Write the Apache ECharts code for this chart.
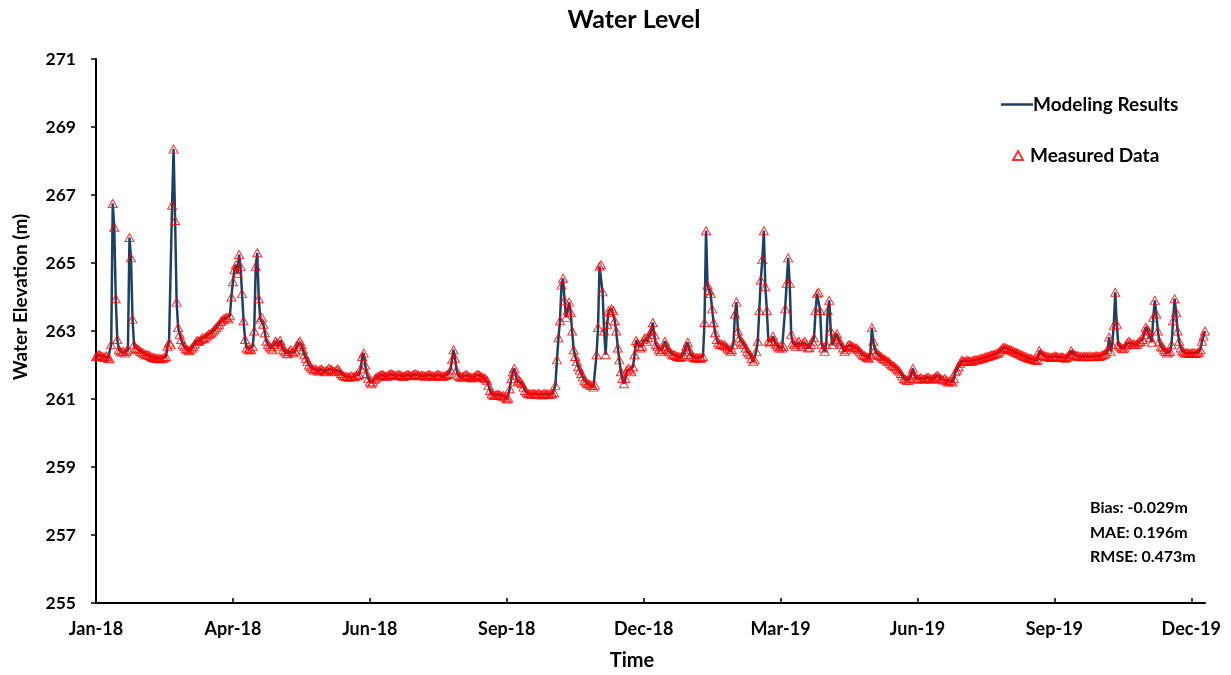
<!DOCTYPE html>
<html>
<head>
<meta charset="utf-8">
<script src="https://cdn.jsdelivr.net/npm/echarts@6/dist/echarts.min.js"></script>
<style>html,body{margin:0;padding:0;background:#fff;}#chart{width:1231px;height:675px;}</style>
</head>
<body>
<div id="chart"></div>
<script>
// Day offsets from 1 Jan 2018 and the tick labels shown on the time axis
const xTickDays = [0, 90, 180, 270, 360, 450, 540, 630, 720];
const xTickLabels = ['Jan-18','Apr-18','Jun-18','Sep-18','Dec-18','Mar-19','Jun-19','Sep-19','Dec-19'];
const yTicks = [255, 257, 259, 261, 263, 265, 267, 269, 271];

// Daily modeled water elevation (m), day 0 = 1 Jan 2018 ... day 729 = 31 Dec 2019
const modeled = [
262.25,262.28,262.3,262.27,262.25,262.22,262.24,262.26,262.2,262.18,
262.6,266.75,266.05,263.95,262.75,262.45,262.4,262.38,262.4,262.35,
262.4,262.45,265.75,265.15,263.35,262.6,262.5,262.48,262.45,262.4,
262.38,262.35,262.32,262.3,262.3,262.28,262.25,262.22,262.22,262.2,
262.2,262.18,262.2,262.18,262.2,262.22,262.25,262.55,262.65,262.6,
266.7,268.35,266.25,263.85,263.1,262.9,262.75,262.6,262.55,262.48,
262.45,262.42,262.45,262.5,262.55,262.62,262.7,262.72,262.7,262.75,
262.8,262.78,262.82,262.85,262.9,262.92,262.95,263.0,263.05,263.1,
263.15,263.2,263.28,263.32,263.35,263.38,263.4,263.35,263.45,264.0,
264.45,264.8,264.95,264.7,265.25,264.9,264.1,263.3,262.75,262.5,
262.45,262.48,262.45,262.55,263.0,264.9,265.3,263.95,263.35,263.4,
263.2,262.95,262.7,262.6,262.55,262.5,262.45,262.6,262.7,262.65,
262.55,262.72,262.6,262.45,262.4,262.35,262.33,262.4,262.45,262.38,
262.35,262.4,262.55,262.65,262.7,262.6,262.45,262.3,262.2,262.1,
262.0,261.95,261.9,261.85,261.88,261.85,261.82,261.85,261.88,261.85,
261.8,261.82,261.85,261.9,261.88,261.85,261.82,261.8,261.85,261.88,
261.82,261.75,261.7,261.68,261.65,261.66,261.64,261.65,261.68,261.65,
261.66,261.7,261.68,261.72,261.9,262.25,262.35,262.0,261.75,261.6,
261.5,261.45,261.5,261.58,261.62,261.65,261.68,261.7,261.72,261.7,
261.68,261.66,261.7,261.72,261.74,261.72,261.7,261.68,261.7,261.72,
261.7,261.68,261.66,261.68,261.7,261.72,261.7,261.68,261.7,261.72,
261.74,261.72,261.7,261.68,261.7,261.69,261.67,261.68,261.7,261.72,
261.7,261.68,261.66,261.68,261.7,261.72,261.7,261.68,261.66,261.68,
261.7,261.72,261.75,261.85,262.15,262.45,262.2,261.85,261.7,261.65,
261.64,261.66,261.68,261.72,261.7,261.66,261.64,261.62,261.64,261.66,
261.7,261.72,261.7,261.66,261.64,261.62,261.6,261.55,261.4,261.25,
261.15,261.12,261.1,261.12,261.14,261.12,261.1,261.08,261.1,261.05,
261.0,261.02,261.3,261.6,261.8,261.9,261.7,261.5,261.55,261.5,
261.45,261.35,261.25,261.2,261.15,261.16,261.14,261.15,261.16,261.14,
261.15,261.16,261.14,261.12,261.15,261.16,261.14,261.15,261.13,261.15,
261.15,261.2,261.4,262.15,262.8,263.3,264.35,264.55,263.9,263.4,
263.6,263.85,263.55,263.0,262.45,262.25,262.1,261.95,261.85,261.75,
261.65,261.55,261.5,261.45,261.45,261.4,261.4,261.35,261.4,262.3,
263.1,264.9,264.95,264.15,263.0,262.3,263.2,263.6,263.55,263.65,
263.6,263.3,263.0,262.5,262.15,261.8,261.6,261.45,261.6,261.85,
261.9,261.85,261.8,261.95,262.3,262.72,262.65,262.55,262.5,262.55,
262.75,262.8,262.7,262.8,262.9,263.0,263.25,262.9,262.6,262.55,
262.45,262.4,262.45,262.5,262.7,262.55,262.45,262.4,262.35,262.3,
262.3,262.28,262.25,262.25,262.22,262.25,262.3,262.4,262.55,262.67,
262.45,262.3,262.25,262.22,262.2,262.22,262.2,262.22,262.2,262.25,
263.25,265.95,264.35,264.2,264.1,263.65,263.25,262.95,262.75,262.65,
262.6,262.62,262.58,262.6,262.55,262.5,262.45,262.4,262.45,262.6,
263.5,263.85,263.0,262.8,262.7,262.65,262.6,262.5,262.4,262.35,
262.3,262.2,262.1,262.15,262.4,262.7,263.6,264.5,265.1,265.95,
264.3,263.6,262.7,262.65,262.7,262.85,262.7,262.6,262.55,262.5,
262.55,262.5,262.55,263.65,264.4,265.15,264.4,262.9,262.65,262.6,
262.55,262.65,262.7,262.6,262.55,262.65,262.7,262.6,262.5,262.52,
262.6,262.7,262.8,263.6,264.1,264.14,263.6,262.6,262.5,262.4,
262.6,263.6,263.9,263.0,262.6,262.7,262.85,262.92,262.75,262.65,
262.6,262.5,262.4,262.45,262.55,262.6,262.58,262.55,262.52,262.5,
262.5,262.45,262.4,262.35,262.3,262.28,262.25,262.22,262.2,262.3,
263.1,262.7,262.45,262.35,262.3,262.28,262.25,262.2,262.18,262.15,
262.12,262.1,262.05,262.0,261.98,261.95,261.9,261.86,261.82,261.75,
261.68,261.6,261.58,261.55,261.54,261.6,261.75,261.9,261.7,261.6,
261.58,261.6,261.62,261.6,261.58,261.6,261.62,261.64,261.6,261.58,
261.6,261.62,261.65,261.7,261.65,261.6,261.58,261.56,261.6,261.55,
261.5,261.52,261.55,261.5,261.6,261.8,261.85,261.95,262.05,262.13,
262.12,262.1,262.12,262.13,262.12,262.1,262.12,262.14,262.15,262.15,
262.16,262.18,262.2,262.2,262.22,262.24,262.25,262.26,262.28,262.3,
262.3,262.32,262.34,262.36,262.4,262.45,262.5,262.52,262.5,262.48,
262.46,262.45,262.43,262.4,262.38,262.36,262.35,262.33,262.3,262.28,
262.26,262.25,262.22,262.2,262.2,262.18,262.16,262.15,262.13,262.15,
262.42,262.35,262.3,262.28,262.26,262.25,262.24,262.23,262.22,262.24,
262.25,262.26,262.24,262.22,262.23,262.24,262.22,262.2,262.22,262.24,
262.3,262.42,262.35,262.3,262.28,262.27,262.26,262.25,262.24,262.25,
262.26,262.25,262.24,262.26,262.25,262.24,262.25,262.26,262.27,262.25,
262.26,262.28,262.3,262.32,262.35,262.45,262.82,262.4,262.6,263.15,
264.14,263.2,262.6,262.55,262.5,262.48,262.5,262.58,262.65,262.7,
262.65,262.6,262.62,262.6,262.6,262.65,262.7,262.68,262.75,262.9,
263.11,263.05,263.0,262.8,262.67,263.4,263.9,263.5,263.0,262.7,
262.55,262.52,262.45,262.4,262.35,262.38,262.4,262.6,263.3,263.95,
263.55,263.0,262.7,262.5,262.42,262.38,262.35,262.36,262.35,262.34,
262.35,262.36,262.35,262.34,262.36,262.38,262.45,262.7,262.85,263.0
];
// Measured daily water elevation (m); it coincides with the model at this scale
const measured = modeled;

const statsLines = ['Bias: -0.029m', 'MAE: 0.196m', 'RMSE: 0.473m'];

const FONT = 'Lato, "Open Sans", sans-serif';
const chart = echarts.init(document.getElementById('chart'), null, {renderer: 'canvas'});
const modeledPts = modeled.map((v, i) => [i, v]);
const measuredPts = measured.map((v, i) => [i, v]);

chart.setOption({
  animation: false,
  backgroundColor: '#ffffff',
  textStyle: {fontFamily: FONT},
  title: {
    text: 'Water Level',
    left: 629, top: 2, textAlign: 'center',
    textStyle: {fontFamily: FONT, fontSize: 25, fontWeight: 'bold', color: '#000'}
  },
  legend: [{
    data: [{name: 'Modeling Results', icon: 'rect'}],
    left: 996, top: 90,
    itemWidth: 32, itemHeight: 2.5, itemGap: 6,
    itemStyle: {color: '#1F4060', borderWidth: 0},
    textStyle: {fontFamily: FONT, fontSize: 19, fontWeight: 'bold', color: '#000', padding: [0, 0, 0, -5]}
  }, {
    data: [{name: 'Measured Data', icon: 'triangle'}],
    left: 1007, top: 141,
    itemWidth: 10, itemHeight: 9,
    textStyle: {fontFamily: FONT, fontSize: 19, fontWeight: 'bold', color: '#000', padding: [0, 0, 0, 2]}
  }],
  grid: {left: 96, right: 26, top: 59, bottom: 72, containLabel: false},
  xAxis: {
    type: 'value', min: 0, max: 729,
    axisLine: {onZero: false, lineStyle: {color: '#000', width: 2}},
    axisTick: {show: true, inside: true, length: 5, lineStyle: {color: '#000', width: 1.5},
      customValues: xTickDays.slice(1)},
    axisLabel: {
      customValues: xTickDays,
      margin: 17,
      fontFamily: FONT, fontSize: 18, fontWeight: 'bold', color: '#000',
      formatter: v => { const k = xTickDays.indexOf(Math.round(v)); return k >= 0 ? xTickLabels[k] : ''; }
    },
    splitLine: {show: false}
  },
  yAxis: {
    type: 'value', min: 255, max: 271, interval: 2,
    axisLine: {show: true, lineStyle: {color: '#000', width: 2}},
    axisTick: {show: true, inside: false, length: 5, lineStyle: {color: '#000', width: 1.5}},
    axisLabel: {
      customValues: yTicks,
      margin: 20, fontFamily: FONT, fontSize: 17.5, fontWeight: 'bold', color: '#000'
    },
    splitLine: {show: false}
  },
  graphic: [
    {
      type: 'text', x: 632, y: 661, z: 100,
      style: {text: 'Time', align: 'center', verticalAlign: 'middle',
        fontFamily: FONT, fontSize: 20, fontWeight: 'bold', fill: '#000'}
    },
    {
      type: 'text', x: 21, y: 297, rotation: Math.PI / 2, z: 100,
      style: {text: 'Water Elevation (m)', align: 'center', verticalAlign: 'middle',
        fontFamily: FONT, fontSize: 19, fontWeight: 'bold', fill: '#000'}
    }
  ].concat(statsLines.map((t, i) => ({
    type: 'text', x: 1090, y: 508 + i * 24.5, z: 100,
    style: {text: t, verticalAlign: 'middle', fontFamily: FONT, fontSize: 16, fontWeight: 'bold', fill: '#000'}
  }))),
  series: [{
    name: 'Modeling Results',
    type: 'line',
    data: modeledPts,
    showSymbol: false, symbol: 'none',
    lineStyle: {color: '#1F4060', width: 2.5},
    itemStyle: {color: '#1F4060'},
    z: 2
  }, {
    name: 'Measured Data',
    type: 'scatter',
    data: measuredPts,
    symbol: 'triangle', symbolSize: [9, 8],
    itemStyle: {color: 'rgba(255,255,255,0)', borderColor: '#FF0000', borderWidth: 1},
    z: 3
  }]
});
</script>
</body>
</html>
